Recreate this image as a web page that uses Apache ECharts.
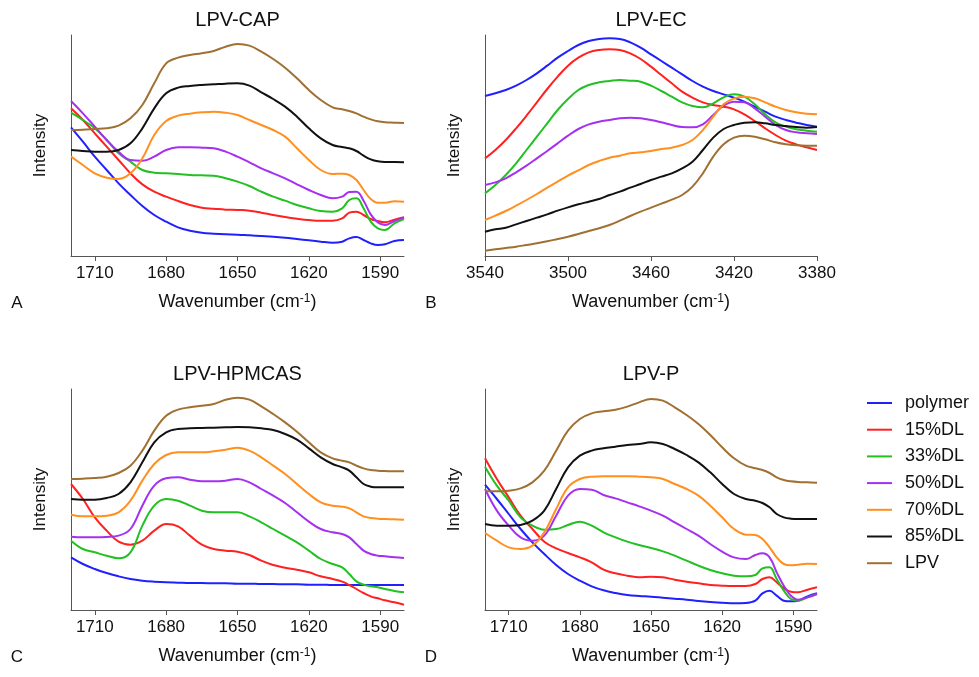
<!DOCTYPE html>
<html>
<head>
<meta charset="utf-8">
<title>LPV FTIR</title>
<script src="https://cdn.jsdelivr.net/npm/echarts@6/dist/echarts.min.js"></script>
<style>
  body { margin: 0; background: #fff; }
  #main { width: 979px; height: 677px; }
</style>
</head>
<body>
<div id="main"></div>
<script>
// wavenumber grids (cm-1)
var wnIR = [1720,1715,1710,1705,1700,1695,1690,1685,1680,1675,1670,1665,1660,1655,1650,1645,1640,1635,1630,1625,1620,1615,1610,1606,1603,1600,1597,1594,1591,1588,1584,1580];
var wnOH = [3540,3535,3530,3525,3520,3515,3510,3505,3500,3495,3490,3485,3480,3475,3470,3465,3460,3455,3450,3445,3440,3435,3430,3425,3420,3415,3410,3405,3400,3395,3390,3385,3380];

// tick labels
var ticksIR = [1590, 1620, 1650, 1680, 1710];
var ticksOH = [3380, 3420, 3460, 3500, 3540];

var seriesNames = ['polymer', '15%DL', '33%DL', '50%DL', '70%DL', '85%DL', 'LPV'];

// A: LPV-CAP
var capPolymer = [38.6,34.3,29.8,25.8,21.8,18.3,15.0,12.3,10.3,8.6,7.6,7.0,6.7,6.5,6.4,6.2,6.0,5.8,5.5,5.1,4.7,4.3,4.0,4.3,5.3,5.7,4.8,3.8,3.3,3.5,4.5,4.8];
var cap15 = [44.3,40.8,36.8,32.8,28.8,24.8,21.5,19.3,17.8,16.5,15.3,14.5,14.2,13.9,13.8,13.6,13.0,12.3,11.7,11.2,10.8,10.6,10.6,11.3,13.0,13.3,12.3,11.1,10.5,10.1,10.9,11.6];
var cap33 = [43.0,40.8,38.3,34.8,30.8,28.3,25.8,25.0,24.8,24.6,24.3,24.2,24.1,23.3,22.3,21.0,19.3,17.8,16.6,15.3,14.3,13.5,13.3,14.3,16.8,17.3,14.3,10.3,8.3,7.8,9.8,11.1];
var cap50 = [46.5,42.8,38.8,34.8,31.3,28.8,28.6,29.8,31.8,32.6,32.6,32.5,32.3,31.3,29.8,28.1,26.3,24.8,23.3,21.5,19.8,18.3,17.3,17.8,19.2,19.3,16.6,12.5,10.1,9.3,10.5,11.5];
var cap70 = [29.8,27.3,24.8,23.5,23.1,24.8,29.3,36.3,40.5,42.1,42.7,43.1,43.3,43.0,42.3,40.8,39.3,37.8,35.8,32.3,28.8,25.8,24.6,24.7,24.3,22.8,19.8,17.1,16.0,16.0,16.4,16.3];
var cap85 = [31.8,31.5,31.3,31.3,31.8,33.8,38.3,44.3,48.8,50.5,51.0,51.3,51.5,51.7,51.8,51.1,49.1,47.1,44.8,41.8,38.3,35.3,33.3,32.7,32.3,31.5,30.1,29.0,28.4,28.2,28.2,28.1];
var capLPV = [37.8,37.9,38.1,38.3,39.1,41.3,45.3,51.8,57.8,59.5,60.3,60.8,61.5,62.8,63.6,63.1,61.3,59.1,56.5,53.3,49.8,46.8,44.6,44.0,43.5,42.8,41.8,41.0,40.4,40.1,40.0,39.9];

// B: LPV-EC
var ecPolymer = [48.0,48.8,49.8,51.1,52.8,54.8,57.1,59.5,61.5,63.3,64.5,65.1,65.3,65.1,64.1,62.5,60.5,58.5,56.5,54.5,52.5,50.8,49.5,48.5,47.5,46.3,44.8,43.3,41.8,40.8,40.0,39.3,38.8];
var ec15 = [29.3,31.8,34.8,38.3,42.1,46.1,50.1,53.8,57.1,59.5,61.1,61.8,62.0,61.8,60.8,59.1,56.8,54.3,51.8,49.3,47.5,46.1,45.3,44.8,44.0,42.5,40.5,38.3,36.3,34.6,33.5,32.6,31.8];
var ec33 = [18.8,21.3,24.3,27.8,31.8,35.8,39.8,43.8,47.1,49.8,51.3,52.1,52.5,52.8,52.6,52.3,51.1,49.5,47.8,46.1,45.0,44.6,45.8,47.6,48.5,47.8,45.5,42.5,40.1,38.8,38.0,37.6,37.3];
var ec50 = [21.3,22.1,23.3,25.1,27.1,29.3,31.5,33.8,36.1,38.1,39.5,40.3,40.8,41.3,41.5,41.3,40.8,40.1,39.3,38.7,38.6,39.5,42.3,45.1,46.3,46.1,44.3,41.8,39.3,37.8,37.1,36.8,36.6];
var ec70 = [10.8,12.1,13.5,15.1,16.8,18.6,20.5,22.3,24.1,25.7,27.3,28.5,29.5,30.1,30.8,31.1,31.5,32.1,32.5,33.3,34.8,37.8,41.8,45.5,47.3,47.8,47.3,46.1,44.8,43.8,43.1,42.7,42.5];
var ec85 = [7.3,8.0,8.5,9.5,10.5,11.5,12.5,13.6,14.6,15.5,16.3,17.1,18.3,19.3,20.5,21.6,22.8,23.8,24.8,26.3,28.3,31.8,35.5,38.1,39.3,40.0,40.1,39.8,39.3,39.0,38.7,38.5,38.7];
var ecLPV = [1.6,2.0,2.4,2.8,3.3,3.8,4.4,5.1,5.8,6.6,7.5,8.3,9.3,10.6,12.0,13.3,14.5,15.7,16.9,18.3,20.8,24.8,29.8,33.5,35.5,36.1,35.8,35.0,34.1,33.5,33.2,33.1,33.1];

// C: LPV-HPMCAS
var hpPolymer = [15.8,13.8,12.3,11.1,10.1,9.3,8.8,8.5,8.3,8.2,8.1,8.1,8.0,8.0,7.9,7.9,7.8,7.8,7.7,7.7,7.6,7.6,7.5,7.5,7.5,7.5,7.5,7.5,7.5,7.5,7.5,7.5];
var hp15 = [37.8,33.3,27.8,23.8,20.5,19.6,20.8,23.8,25.8,25.1,22.3,19.6,18.3,17.8,17.5,16.5,14.8,13.5,12.7,12.1,11.3,10.1,9.3,8.5,7.5,6.3,5.1,4.1,3.5,2.9,2.3,1.6];
var hp33 = [20.8,18.3,17.3,16.3,15.5,17.3,25.3,31.3,33.3,32.8,31.3,29.8,29.3,29.3,29.3,28.1,26.3,24.3,22.3,20.3,17.8,15.3,13.8,12.8,10.8,8.6,7.6,7.1,6.8,6.3,5.7,5.3];
var hp50 = [22.0,21.8,21.8,21.9,22.3,24.3,31.3,37.3,39.5,39.8,39.1,38.6,38.6,38.8,39.3,38.3,36.3,34.3,32.1,29.3,26.5,24.3,23.3,22.8,21.8,19.8,17.8,16.8,16.3,16.1,15.8,15.6];
var hp70 = [28.6,28.1,28.1,28.3,29.3,32.8,38.8,43.8,46.5,47.3,47.3,47.3,47.6,48.1,48.7,47.8,45.8,43.3,40.8,37.8,34.8,32.3,31.3,31.0,30.5,29.3,28.1,27.6,27.4,27.3,27.2,27.1];
var hp85 = [33.3,33.1,33.1,33.6,34.8,38.3,44.3,50.3,53.3,54.3,54.5,54.6,54.7,54.8,54.9,54.8,54.5,54.0,52.8,51.1,48.5,45.8,43.8,42.8,41.8,39.8,37.8,37.0,36.8,36.8,36.8,36.8];
var hpLPV = [39.3,39.4,39.6,40.0,41.1,43.3,47.8,53.8,58.3,60.1,60.8,61.3,61.8,63.1,63.7,63.1,61.1,58.8,56.3,53.5,50.3,47.3,45.5,44.8,44.3,43.3,42.5,42.0,41.8,41.7,41.6,41.6];

// D: LPV-P
var pPolymer = [37.6,33.3,28.8,24.3,20.3,16.8,13.5,10.8,8.8,7.1,5.9,5.1,4.5,4.2,4.0,3.7,3.4,3.1,2.7,2.4,2.2,2.0,2.1,2.8,5.0,5.8,4.3,2.8,2.6,2.8,4.1,5.0];
var p15 = [45.5,39.3,33.8,28.3,24.3,20.5,18.5,17.1,15.8,14.3,12.1,11.0,10.3,9.8,10.0,9.8,9.1,8.5,8.0,7.5,7.3,7.2,7.2,7.8,9.3,9.8,8.3,6.5,5.5,5.3,6.1,6.8];
var p33 = [43.0,37.3,32.8,27.8,25.3,24.1,24.3,25.5,26.5,25.3,23.3,21.8,20.5,19.5,18.6,17.6,16.3,14.8,13.3,12.0,11.0,10.3,10.1,10.5,12.5,12.8,9.3,5.8,3.3,2.8,3.8,4.8];
var p50 = [36.3,29.8,25.3,21.8,20.8,22.3,28.3,34.3,36.3,36.1,34.5,33.5,32.3,31.1,29.8,28.3,26.3,24.3,22.3,19.8,17.5,15.8,15.3,16.5,17.0,15.8,11.3,7.3,4.3,3.1,3.8,4.8];
var p70 = [23.1,20.8,18.8,18.3,19.3,23.3,30.3,36.8,39.3,40.0,40.1,40.1,40.1,40.0,39.8,39.3,37.8,36.3,34.3,31.3,27.8,24.3,22.6,22.5,21.3,18.8,15.8,13.8,13.4,13.6,13.9,13.8];
var p85 = [25.8,25.3,25.3,25.5,26.8,29.8,36.3,42.8,46.3,47.8,48.5,49.0,49.5,49.8,50.3,49.8,48.3,46.5,44.3,41.3,37.8,34.8,33.3,32.8,32.1,30.8,28.8,27.8,27.4,27.3,27.3,27.3];
var pLPV = [35.6,35.6,35.8,36.5,38.3,41.8,47.8,53.8,57.3,59.0,59.6,60.1,61.0,62.3,63.3,62.8,60.8,58.5,55.8,52.5,48.8,45.5,43.3,42.5,42.0,41.1,39.8,39.0,38.6,38.4,38.3,38.2];

var colors = ['#2020ff', '#ff2020', '#22c022', '#a530f0', '#ff9020', '#111111', '#a07033'];
var font = 'Liberation Sans, Arial, Helvetica, sans-serif';

var panels = [
  { title: 'LPV-CAP', letter: 'A', xs: wnIR, ticks: ticksIR, min: 1580, max: 1720,
    ys: [capPolymer, cap15, cap33, cap50, cap70, cap85, capLPV],
    grid: { left: 71, top: 35, width: 333, height: 221 } },
  { title: 'LPV-EC', letter: 'B', xs: wnOH, ticks: ticksOH, min: 3380, max: 3540,
    ys: [ecPolymer, ec15, ec33, ec50, ec70, ec85, ecLPV],
    grid: { left: 485, top: 35, width: 332, height: 221 } },
  { title: 'LPV-HPMCAS', letter: 'C', xs: wnIR, ticks: ticksIR, min: 1580, max: 1720,
    ys: [hpPolymer, hp15, hp33, hp50, hp70, hp85, hpLPV],
    grid: { left: 71, top: 389, width: 333, height: 221 } },
  { title: 'LPV-P', letter: 'D', xs: wnIR, ticks: ticksIR, min: 1580, max: 1720,
    ys: [pPolymer, p15, p33, p50, p70, p85, pLPV],
    grid: { left: 485, top: 389, width: 332, height: 221 } }
];

var grids = [], xAxes = [], yAxes = [], series = [], titles = [];

panels.forEach(function (p, k) {
  grids.push(p.grid);
  var cx = p.grid.left + p.grid.width / 2;
  titles.push({
    text: p.title, left: cx, top: p.grid.top - 25, textAlign: 'center', padding: 0,
    textStyle: { fontFamily: font, fontSize: 20, fontWeight: 'normal', color: '#111' }
  });
  titles.push({
    text: p.letter, left: p.grid.left - 54, top: p.grid.top + p.grid.height + 39, textAlign: 'center', padding: 0,
    textStyle: { fontFamily: font, fontSize: 17, fontWeight: 'normal', color: '#111' }
  });
  xAxes.push({
    type: 'value', gridIndex: k, inverse: true, min: p.min, max: p.max,
    name: 'Wavenumber (cm{sup|-1})', nameLocation: 'middle', nameGap: 37,
    nameTextStyle: {
      fontFamily: font, fontSize: 18, color: '#111',
      rich: { sup: { fontFamily: font, fontSize: 12, verticalAlign: 'top', color: '#111' } }
    },
    axisLine: { lineStyle: { color: '#555', width: 1 } },
    axisTick: { show: true, length: 5, customValues: p.ticks, lineStyle: { color: '#555' } },
    axisLabel: {
      customValues: p.ticks, fontFamily: font, fontSize: 17, color: '#111', margin: 9,
      formatter: function (v) { return String(v); }
    },
    splitLine: { show: false }
  });
  yAxes.push({
    type: 'value', gridIndex: k, min: 0, max: 66.3,
    name: 'Intensity', nameLocation: 'middle', nameGap: 22,
    nameTextStyle: { fontFamily: font, fontSize: 17, color: '#111' },
    axisLine: { show: true, lineStyle: { color: '#555', width: 1 } },
    axisTick: { show: false },
    axisLabel: { show: false },
    splitLine: { show: false }
  });
  p.ys.forEach(function (ys, i) {
    series.push({
      name: seriesNames[i],
      type: 'line',
      xAxisIndex: k,
      yAxisIndex: k,
      smooth: 0.4,
      showSymbol: false,
      lineStyle: { width: 2, color: colors[i] },
      itemStyle: { color: colors[i] },
      data: p.xs.map(function (x, j) { return [x, ys[j]]; })
    });
  });
});

var myChart = echarts.init(document.getElementById('main'));
var option = {
  animation: false,
  backgroundColor: '#fff',
  title: titles,
  grid: grids,
  xAxis: xAxes,
  yAxis: yAxes,
  legend: {
    orient: 'vertical', left: 867, top: 394, padding: 0,
    icon: 'rect', itemWidth: 25, itemHeight: 2, itemGap: 8.7,
    textStyle: { fontFamily: font, fontSize: 18, color: '#111', padding: [0, 0, 0, 8] },
    data: seriesNames
  },
  series: series
};
myChart.setOption(option);
</script>
</body>
</html>
